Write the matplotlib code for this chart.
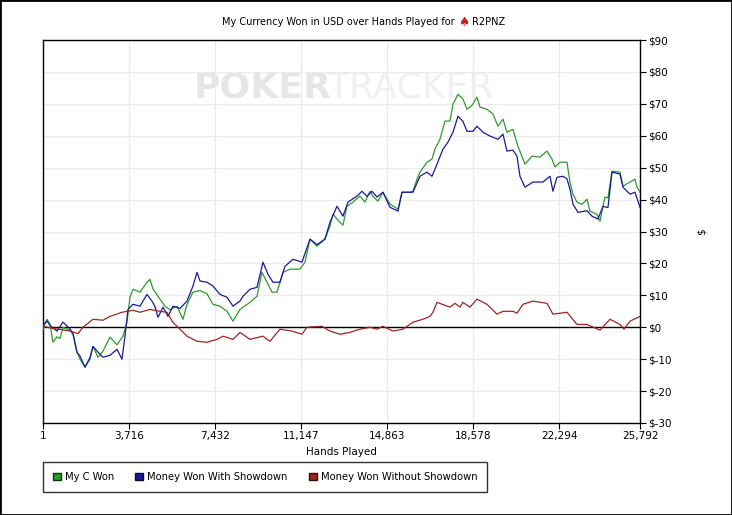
import matplotlib.pyplot as plt
from matplotlib.patches import Patch, Rectangle

# hands played / dollars
hands_won = [1, 173, 302, 432, 605, 734, 864, 1166, 1296, 1469, 1598, 1814, 2030, 2160, 2376, 2592,
             2894, 3197, 3456, 3629, 3758, 3888, 4190, 4493, 4622, 4752, 5054, 5270, 5486, 5789, 6048,
             6221, 6480, 6782, 7085, 7344, 7646, 7949, 8208, 8510, 8942, 9245, 9461, 9677, 9893, 10109,
             10368, 10670, 11102, 11318, 11534, 11837, 12182, 12398, 12528, 12830, 12960, 13133, 13392,
             13694, 13910, 14126, 14256, 14472, 14688, 14990, 15336, 15509, 15854, 15984, 16157, 16286,
             16589, 16805, 16934, 17150, 17366, 17582, 17712, 17928, 18144, 18317, 18533, 18749, 18878,
             19181, 19440, 19656, 19872, 20045, 20304, 20520, 20822, 21125, 21470, 21773, 21989, 22118,
             22334, 22637, 22766, 22896, 23069, 23285, 23501, 23630, 23933, 24062, 24278, 24408, 24581,
             24926, 25056, 25358, 25574, 25661, 25792]
won = [-0.6, 2.5, 1.0, -4.7, -3.0, -3.5, 0.0, -1.0, -2.2, -7.8, -10.0, -12.5, -10.0, -6.0, -9.4, -7.5,
       -3.1, -5.5, -2.8, 1.6, 9.4, 11.9, 11.0, 14.1, 15.0, 12.0, 8.8, 6.6, 5.5, 6.6, 2.5,
       7.2, 11.0, 11.5, 10.5, 7.2, 6.6, 5.0, 1.9, 5.6, 7.8, 9.7, 17.2, 14.1, 11.0, 11.0,
       17.2, 18.2, 18.2, 20.4, 27.6, 25.4, 27.6, 31.7, 35.4, 32.9, 32.0, 37.9, 39.2,
       41.1, 39.2, 42.6, 41.0, 39.5, 42.3, 38.6, 37.0, 42.3, 42.3, 42.6, 46.4, 48.6,
       51.7, 52.7, 55.8, 58.9, 64.6, 64.6, 69.9, 73.0, 71.5, 68.3, 69.5, 72.1, 69.0,
       68.3, 66.8, 63.0, 65.2, 61.1, 62.0, 56.7, 51.1, 53.6, 53.3, 55.2, 52.7, 50.2,
       51.7, 51.7, 45.5, 41.7, 39.2, 38.5, 40.1, 36.4, 35.4, 33.2, 40.8, 40.5, 48.9,
       48.6, 44.2, 45.5, 46.4, 43.9, 42.3]

hands_sd = [1, 173, 302, 605, 864, 1166, 1296, 1469, 1598, 1814, 2030, 2160, 2376, 2592, 2894, 3197,
            3413, 3542, 3672, 3888, 4190, 4493, 4709, 4838, 4968, 5184, 5400, 5616, 5918, 6221, 6480,
            6653, 6782, 7085, 7344, 7646, 7949, 8208, 8510, 8640, 8942, 9245, 9504, 9720, 9936, 10238,
            10454, 10800, 11189, 11534, 11837, 12182, 12398, 12701, 12960, 13176, 13565, 13781, 13997,
            14213, 14429, 14688, 14990, 15336, 15509, 15984, 16286, 16589, 16805, 17021, 17280, 17496,
            17712, 17928, 18144, 18317, 18576, 18749, 19008, 19310, 19656, 19872, 20045, 20304, 20477,
            20606, 20822, 21168, 21600, 21902, 22032, 22205, 22464, 22637, 22766, 22896, 23112, 23501,
            23717, 23976, 24192, 24408, 24581, 24926, 25056, 25358, 25574, 25792]
showdown = [0.6, 2.0, 0.6, -1.2, 1.6, -0.5, -2.0, -7.8, -9.0, -12.5, -9.5, -6.0, -7.8, -9.4, -8.8, -6.9,
            -10.0, -2.8, 5.6, 7.2, 6.6, 10.3, 8.2, 6.5, 3.1, 6.3, 3.4, 6.6, 5.9, 8.2, 12.9,
            17.2, 14.5, 14.1, 12.9, 10.3, 9.4, 6.6, 8.2, 9.7, 11.9, 12.5, 20.4, 16.6, 14.1, 14.1,
            19.1, 21.3, 20.4, 27.6, 25.9, 27.6, 32.9, 37.9, 34.8, 39.2, 41.1, 42.6, 41.0,
            42.6, 40.8, 42.3, 37.6, 36.4, 42.3, 42.3, 47.3, 48.6, 47.3, 51.1, 55.8, 58.0,
            61.1, 66.1, 64.5, 61.4, 61.4, 63.0, 61.1, 59.9, 58.9, 60.5, 55.2, 55.5, 53.6,
            47.3, 43.9, 45.5, 45.5, 47.3, 42.6, 47.0, 47.3, 46.5, 43.3, 38.6, 36.0, 36.5,
            34.8, 33.9, 37.9, 37.5, 48.6, 48.0, 43.9, 41.7, 42.3, 37.6]

hands_nsd = [1, 518, 864, 1166, 1512, 1728, 2160, 2592, 2894, 3413, 3888, 4190, 4622, 5054, 5357, 5616,
             5918, 6221, 6653, 7085, 7517, 7776, 8208, 8510, 8942, 9504, 9806, 10238, 10757, 11189,
             11405, 12053, 12398, 12830, 13262, 13694, 14126, 14429, 14688, 15120, 15552, 15984, 16416,
             16718, 16848, 17021, 17582, 17798, 18014, 18144, 18446, 18749, 19181, 19613, 19872, 20304,
             20477, 20736, 21168, 21773, 22032, 22637, 23069, 23501, 24062, 24494, 24926, 25099, 25358,
             25792]
no_showdown = [0.3, -0.5, -0.8, -1.2, -2.0, 0.0, 2.5, 2.2, 3.4, 4.7, 5.3, 4.7, 5.6, 5.0, 4.7, 1.5,
               -0.6, -2.8, -4.4, -4.7, -3.8, -2.8, -3.8, -1.6, -3.8, -2.8, -4.4, -0.6, -1.2, -2.2,
               0.0, 0.3, -1.2, -2.2, -1.6, -0.6, 0.0, -0.6, 0.3, -1.2, -0.6, 1.6, 2.5,
               3.4, 4.7, 7.8, 6.3, 7.5, 6.3, 7.8, 6.3, 8.8, 7.2, 4.1, 5.0, 5.0,
               4.4, 7.2, 8.2, 7.5, 4.1, 4.7, 0.9, 0.9, -0.9, 2.5, 0.9, -0.6, 1.9,
               3.4]

xticks = [1, 3716, 7432, 11147, 14863, 18578, 22294, 25792]
yticks = list(range(-30, 100, 10))

plt.rcParams['font.family'] = ['DejaVu Sans']

fig = plt.figure(figsize=(7.32, 5.15), dpi=100)
ax = fig.add_axes([43/732, 1 - 423/515, 597/732, 383/515])

# watermark
ax.text(0.252, 0.875, 'POKER', transform=ax.transAxes, fontsize=26, fontweight='bold',
        color='#e6e6e6', ha='left', va='center', family=['Liberation Sans Narrow', 'DejaVu Sans'], zorder=0)
ax.text(0.754, 0.875, 'TRACKER', transform=ax.transAxes, fontsize=26,
        color='#f0f0f0', ha='right', va='center', family=['Liberation Sans Narrow', 'DejaVu Sans'], zorder=0)

c_won = '#2f9a2f'
c_sd = '#1a1a96'
c_nsd = '#a02424'

ax.plot(hands_won, won, color=c_won, lw=0.9, zorder=3)
ax.plot(hands_sd, showdown, color=c_sd, lw=0.9, zorder=4)
ax.plot(hands_nsd, no_showdown, color=c_nsd, lw=0.9, zorder=5)
ax.axhline(0, color='black', lw=1, zorder=2)

ax.set_xlim(1, 25792)
ax.set_ylim(-30, 90)
ax.set_xticks(xticks)
ax.set_xticklabels([f'{t:,}' for t in xticks], fontsize=7.5)
ax.set_yticks(yticks)
ax.set_yticklabels([f'${t}' for t in yticks], fontsize=7.5)
ax.yaxis.tick_right()
ax.yaxis.set_label_position('right')
ax.tick_params(axis='both', length=4, width=0.8, color='black', pad=2)
ax.grid(True, color='#ebebeb', lw=0.8, zorder=0)
ax.set_axisbelow(True)
for s in ax.spines.values():
    s.set_color('black')
    s.set_linewidth(1)

ax.set_xlabel('Hands Played', fontsize=7.5, labelpad=4)
ax.set_ylabel('$', fontsize=7.5, labelpad=18)

# title with red spade
fig.text(455/732, 1 - 22/515, 'My Currency Won in USD over Hands Played for', fontsize=7,
         ha='right', va='center')
fig.text(464/732, 1 - 22/515, '\u2660', fontsize=9, color='#cc2020', ha='center', va='center')
fig.text(472/732, 1 - 22/515, 'R2PNZ', fontsize=7, ha='left', va='center')

handles = [Patch(facecolor=c_won, edgecolor='#0a3a0a'),
           Patch(facecolor=c_sd, edgecolor='#0a0a3a'),
           Patch(facecolor=c_nsd, edgecolor='#3a0a0a')]
labels = ['My C Won', 'Money Won With Showdown', 'Money Won Without Showdown']
leg = fig.legend(handles, labels, ncol=3, loc='upper left', bbox_to_anchor=(43/732, 1 - 462/515),
                 fontsize=7.2, frameon=True, fancybox=False, edgecolor='black', handlelength=0.8,
                 handleheight=0.8, handletextpad=0.4, columnspacing=2.1, borderpad=1.0,
                 borderaxespad=0)
leg.get_frame().set_linewidth(1)

fig.patches.append(Rectangle((0, 0), 1, 1, transform=fig.transFigure, fill=False,
                             edgecolor='black', lw=2))

fig.savefig('out.png', dpi=100)
